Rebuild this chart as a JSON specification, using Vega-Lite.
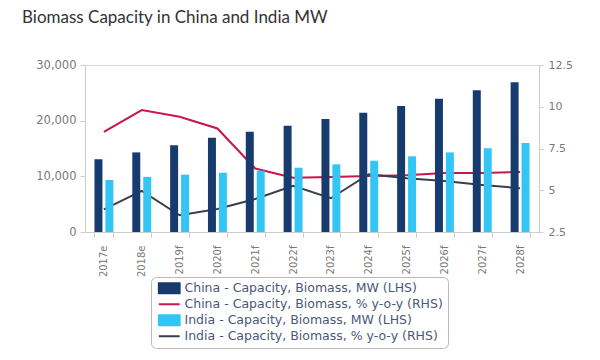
{
  "$schema": "https://vega.github.io/schema/vega-lite/v6.json",
  "width": 454,
  "height": 167,
  "autosize": {"type": "none"},
  "padding": {"left": 85, "top": 65, "right": 61, "bottom": 128},
  "background": "white",
  "title": {"text": "Biomass Capacity in China and India MW", "anchor": "start", "frame": "group", "dx": -63, "offset": 32, "font": "Lato", "fontSize": 17, "fontWeight": "normal", "color": "#333333"},
  "config": {
    "view": {"stroke": "#d4d4d4"},
    "axis": {"labelFont": "DejaVu Sans", "labelColor": "#7a7a7a", "domainColor": "#cccccc", "tickColor": "#cccccc", "grid": false, "title": null}
  },
  "data": {"values": [
    {"year": "2017e", "series": "China - Capacity, Biomass, MW (LHS)", "value": 13050},
    {"year": "2018e", "series": "China - Capacity, Biomass, MW (LHS)", "value": 14300},
    {"year": "2019f", "series": "China - Capacity, Biomass, MW (LHS)", "value": 15600},
    {"year": "2020f", "series": "China - Capacity, Biomass, MW (LHS)", "value": 16950},
    {"year": "2021f", "series": "China - Capacity, Biomass, MW (LHS)", "value": 18000},
    {"year": "2022f", "series": "China - Capacity, Biomass, MW (LHS)", "value": 19100},
    {"year": "2023f", "series": "China - Capacity, Biomass, MW (LHS)", "value": 20300},
    {"year": "2024f", "series": "China - Capacity, Biomass, MW (LHS)", "value": 21400},
    {"year": "2025f", "series": "China - Capacity, Biomass, MW (LHS)", "value": 22650},
    {"year": "2026f", "series": "China - Capacity, Biomass, MW (LHS)", "value": 23950},
    {"year": "2027f", "series": "China - Capacity, Biomass, MW (LHS)", "value": 25450},
    {"year": "2028f", "series": "China - Capacity, Biomass, MW (LHS)", "value": 26900},
    {"year": "2017e", "series": "India - Capacity, Biomass, MW (LHS)", "value": 9350},
    {"year": "2018e", "series": "India - Capacity, Biomass, MW (LHS)", "value": 9900},
    {"year": "2019f", "series": "India - Capacity, Biomass, MW (LHS)", "value": 10300},
    {"year": "2020f", "series": "India - Capacity, Biomass, MW (LHS)", "value": 10650},
    {"year": "2021f", "series": "India - Capacity, Biomass, MW (LHS)", "value": 11000},
    {"year": "2022f", "series": "India - Capacity, Biomass, MW (LHS)", "value": 11550},
    {"year": "2023f", "series": "India - Capacity, Biomass, MW (LHS)", "value": 12150},
    {"year": "2024f", "series": "India - Capacity, Biomass, MW (LHS)", "value": 12800},
    {"year": "2025f", "series": "India - Capacity, Biomass, MW (LHS)", "value": 13600},
    {"year": "2026f", "series": "India - Capacity, Biomass, MW (LHS)", "value": 14300},
    {"year": "2027f", "series": "India - Capacity, Biomass, MW (LHS)", "value": 15050},
    {"year": "2028f", "series": "India - Capacity, Biomass, MW (LHS)", "value": 16000},
    {"year": "2017e", "series": "China - Capacity, Biomass, % y-o-y (RHS)", "value": 8.5},
    {"year": "2018e", "series": "China - Capacity, Biomass, % y-o-y (RHS)", "value": 9.8},
    {"year": "2019f", "series": "China - Capacity, Biomass, % y-o-y (RHS)", "value": 9.4},
    {"year": "2020f", "series": "China - Capacity, Biomass, % y-o-y (RHS)", "value": 8.7},
    {"year": "2021f", "series": "China - Capacity, Biomass, % y-o-y (RHS)", "value": 6.3},
    {"year": "2022f", "series": "China - Capacity, Biomass, % y-o-y (RHS)", "value": 5.75},
    {"year": "2023f", "series": "China - Capacity, Biomass, % y-o-y (RHS)", "value": 5.8},
    {"year": "2024f", "series": "China - Capacity, Biomass, % y-o-y (RHS)", "value": 5.85},
    {"year": "2025f", "series": "China - Capacity, Biomass, % y-o-y (RHS)", "value": 5.9},
    {"year": "2026f", "series": "China - Capacity, Biomass, % y-o-y (RHS)", "value": 6.03},
    {"year": "2027f", "series": "China - Capacity, Biomass, % y-o-y (RHS)", "value": 6.03},
    {"year": "2028f", "series": "China - Capacity, Biomass, % y-o-y (RHS)", "value": 6.1},
    {"year": "2017e", "series": "India - Capacity, Biomass, % y-o-y (RHS)", "value": 3.86},
    {"year": "2018e", "series": "India - Capacity, Biomass, % y-o-y (RHS)", "value": 4.96},
    {"year": "2019f", "series": "India - Capacity, Biomass, % y-o-y (RHS)", "value": 3.5},
    {"year": "2020f", "series": "India - Capacity, Biomass, % y-o-y (RHS)", "value": 3.88},
    {"year": "2021f", "series": "India - Capacity, Biomass, % y-o-y (RHS)", "value": 4.48},
    {"year": "2022f", "series": "India - Capacity, Biomass, % y-o-y (RHS)", "value": 5.26},
    {"year": "2023f", "series": "India - Capacity, Biomass, % y-o-y (RHS)", "value": 4.52},
    {"year": "2024f", "series": "India - Capacity, Biomass, % y-o-y (RHS)", "value": 5.96},
    {"year": "2025f", "series": "India - Capacity, Biomass, % y-o-y (RHS)", "value": 5.72},
    {"year": "2026f", "series": "India - Capacity, Biomass, % y-o-y (RHS)", "value": 5.55},
    {"year": "2027f", "series": "India - Capacity, Biomass, % y-o-y (RHS)", "value": 5.32},
    {"year": "2028f", "series": "India - Capacity, Biomass, % y-o-y (RHS)", "value": 5.12}
  ]},
  "encoding": {
    "x": {
      "field": "year", "type": "nominal", "sort": null,
      "scale": {"paddingInner": 0.5, "paddingOuter": 0.25},
      "axis": {"labelAngle": -90, "labelFontSize": 10, "tickBand": "extent", "tickSize": 5, "labelPadding": 8}
    },
    "color": {
      "field": "series", "type": "nominal",
      "scale": {
        "domain": ["China - Capacity, Biomass, MW (LHS)", "China - Capacity, Biomass, % y-o-y (RHS)", "India - Capacity, Biomass, MW (LHS)", "India - Capacity, Biomass, % y-o-y (RHS)"],
        "range": ["#173b6f", "#c8174b", "#33c6f5", "#393e4e"]
      },
      "legend": {
        "orient": "none", "legendX": 66, "legendY": 212, "title": null, "direction": "vertical",
        "strokeColor": "#bbbbbb", "fillColor": "white", "cornerRadius": 5, "padding": 5,
        "labelFont": "DejaVu Sans", "labelFontSize": 12.5, "labelColor": "#4a5877", "labelLimit": 500,
        "symbolSize": 64, "rowPadding": 0, "symbolOffset": 7, "labelOffset": 9,
        "encode": {"symbols": {"update": {
          "shape": {"signal": "indexof(datum.label, '%') >= 0 ? 'M-2.6,0H2.6' : 'M-2.6,-1.25H2.6V1.25H-2.6Z'"},
          "strokeWidth": {"value": 2},
          "stroke": {"scale": "color", "field": "value"},
          "fill": {"scale": "color", "field": "value"},
          "opacity": {"value": 1}
        }}}
      }
    }
  },
  "layer": [
    {
      "transform": [{"filter": "indexof(datum.series, '%') >= 0"}],
      "mark": {"type": "line", "strokeWidth": 2},
      "encoding": {
        "y": {"field": "value", "type": "quantitative",
          "scale": {"domain": [2.5, 12.5], "zero": false, "nice": false},
          "axis": {"orient": "right", "values": [2.5, 5, 7.5, 10, 12.5], "format": ".3~g", "labelFontSize": 11, "tickSize": 4, "labelPadding": 5}}
      }
    },
    {
      "transform": [{"filter": "indexof(datum.series, '%') < 0"}],
      "mark": {"type": "bar"},
      "encoding": {
        "xOffset": {"field": "series", "type": "nominal", "sort": ["China - Capacity, Biomass, MW (LHS)", "India - Capacity, Biomass, MW (LHS)"], "scale": {"paddingInner": 0.27, "paddingOuter": 0}},
        "y": {"field": "value", "type": "quantitative",
          "scale": {"domain": [0, 30000], "nice": false},
          "axis": {"orient": "left", "values": [0, 10000, 20000, 30000], "format": ",.0f", "labelFontSize": 11.5, "tickSize": 5, "labelPadding": 4}}
      }
    }
  ],
  "resolve": {"scale": {"y": "independent"}}
}
